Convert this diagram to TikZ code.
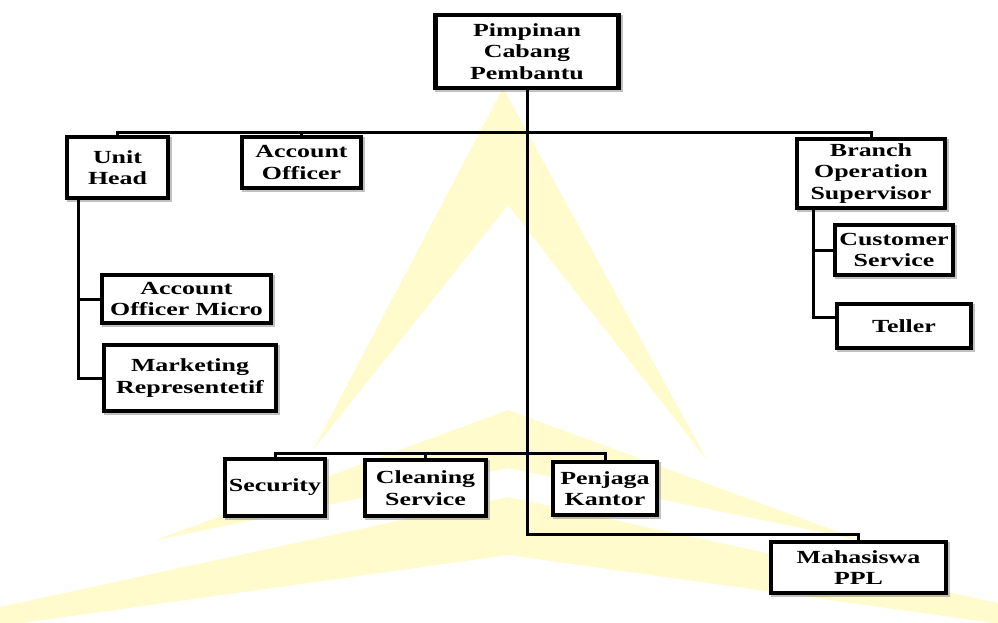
\documentclass[tikz,border=0pt]{standalone}
\usepackage{fontspec}
\setmainfont{Liberation Serif}[FakeStretch=1.4]
\usetikzlibrary{shadows}
\definecolor{wmyellow}{RGB}{255,251,204}
\begin{document}
\begin{tikzpicture}[x=1pt,y=-1pt,
  box/.style={draw=black, line width=4.5pt, fill=white, align=center, inner sep=0pt,
    font=\fontsize{18.5}{21.5}\selectfont\bfseries,
    drop shadow={shadow xshift=2pt, shadow yshift=-2pt, fill=black!60, draw=black!60, line width=4.5pt, opacity=0.4}},
  conn/.style={line width=3pt, line join=miter, draw=black}]
\useasboundingbox (0,0) rectangle (998,622);
\fill[white] (0,0) rectangle (998,622);
% watermark
\begin{scope}
\clip (0,0) rectangle (998,622);
\fill[wmyellow] (503,88) -- (707,460) -- (508,205) -- (313,450) -- cycle;
\fill[wmyellow] (508,410) -- (860,540) -- (508,468) -- (156,540) -- cycle;
\fill[wmyellow] (508,497) -- (1266,661) -- (508,555) -- (-250,661) -- cycle;
\end{scope}
% boxes
\node[box, minimum width=183pt, minimum height=73pt] (top) at (527,51.5) {Pimpinan\\Cabang\\Pembantu};
\node[box, minimum width=101pt, minimum height=61pt] (uh) at (117.5,167.5) {Unit\\Head};
\node[box, minimum width=119pt, minimum height=51pt] (ao) at (301.5,162.5) {Account\\Officer};
\node[box, minimum width=148pt, minimum height=69pt] (bos) at (871,173.5) {Branch\\Operation\\Supervisor};
\node[box, minimum width=118pt, minimum height=50pt] (cs) at (894,250) {Customer\\Service};
\node[box, minimum width=134pt, minimum height=44pt] (tel) at (904,326) {Teller};
\node[box, minimum width=169pt, minimum height=48pt] (aom) at (186.5,299) {Account\\Officer Micro};
\node[box, minimum width=172pt, minimum height=66pt] (mr) at (190,378) {Marketing\\Representetif};
\node[box, minimum width=100pt, minimum height=57pt] (sec) at (275,487.5) {Security};
\node[box, minimum width=121pt, minimum height=56pt] (cls) at (425.5,488) {Cleaning\\Service};
\node[box, minimum width=104pt, minimum height=53pt] (pk) at (605,488.5) {Penjaga\\Kantor};
\node[box, minimum width=175pt, minimum height=51pt] (mhs) at (858.5,567.5) {Mahasiswa\\PPL};
% connector helpers
\coordinate (bus1) at (527,132);
\coordinate (bus2) at (527,453);
\coordinate (bus3) at (527,534);
\coordinate (uhx) at (78,0);
\coordinate (bosx) at (813,0);
% connectors
\draw[conn] (top.south) -- (bus3) -| (mhs.north);
\draw[conn] (uh.north) |- (bus1) -| (bos.north);
\draw[conn] (ao.north) -- (ao.north |- bus1);
\draw[conn] (sec.north) |- (bus2) -| (pk.north);
\draw[conn] (cls.north) -- (cls.north |- bus2);
\draw[conn] (uh.south -| uhx) |- (mr.west);
\draw[conn] (aom.west -| uhx) -- (aom.west);
\draw[conn] (bos.south -| bosx) |- ([yshift=9pt]tel.west);
\draw[conn] (cs.west -| bosx) -- (cs.west);
\end{tikzpicture}
\end{document}
